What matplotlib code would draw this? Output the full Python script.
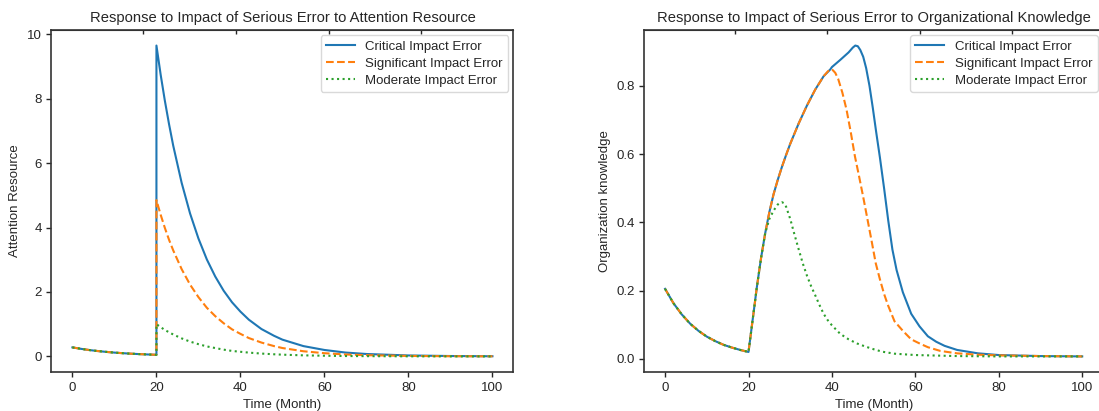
import matplotlib
matplotlib.use("Agg")
import matplotlib.pyplot as plt

plt.rcParams["font.family"] = ["Liberation Sans", "DejaVu Sans"]
plt.rcParams["text.color"] = ".15"
plt.rcParams["axes.labelcolor"] = ".15"
plt.rcParams["xtick.color"] = ".15"
plt.rcParams["ytick.color"] = ".15"
plt.rcParams["axes.edgecolor"] = ".2"

labels = ["Critical Impact Error", "Significant Impact Error", "Moderate Impact Error"]

# attention resource: shared decay before the error at month 20
attn_pre_month = [0, 2, 4, 6, 8, 10, 12, 14, 16, 18, 20]
attn_pre = [0.28, 0.236, 0.198, 0.167, 0.141, 0.118, 0.10, 0.084, 0.071, 0.06, 0.05]

attn_post_month = [20, 21, 22, 23, 24, 26, 28, 30, 32, 34, 36, 38, 40, 42, 45,
                   48, 50, 55, 60, 65, 70, 80, 90, 100]
attn_critical = [9.65, 8.75, 7.94, 7.21, 6.54, 5.39, 4.44, 3.66, 3.01, 2.48, 2.04,
                 1.68, 1.39, 1.14, 0.85, 0.64, 0.52, 0.32, 0.20, 0.12, 0.075,
                 0.03, 0.012, 0.005]
attn_significant = [4.85, 4.40, 3.99, 3.62, 3.29, 2.71, 2.23, 1.84, 1.51, 1.25, 1.03,
                    0.84, 0.70, 0.57, 0.43, 0.32, 0.26, 0.16, 0.10, 0.06, 0.038,
                    0.015, 0.006, 0.003]
attn_moderate = [1.0, 0.91, 0.82, 0.75, 0.68, 0.56, 0.46, 0.38, 0.31, 0.26, 0.21,
                 0.17, 0.144, 0.118, 0.088, 0.066, 0.054, 0.033, 0.021, 0.012,
                 0.008, 0.003, 0.001, 0.0]

# organizational knowledge: shared part up to month 24
know_base_month = [0, 2, 4, 6, 8, 10, 12, 14, 16, 18, 20, 21, 22, 23, 24]
know_base = [0.205, 0.163, 0.130, 0.103, 0.082, 0.065, 0.052, 0.041, 0.033, 0.026,
             0.02, 0.115, 0.21, 0.295, 0.368]

know_critical_month = [25, 26, 27, 28, 29, 30, 32, 34, 36, 38, 39.6, 40, 42, 44,
                       45, 45.6, 46.2, 46.8, 47.5, 48.2, 49, 49.8, 50.6, 51.5,
                       52.5, 53.5, 54.5, 55.5, 57, 59, 61, 63, 65, 67, 70, 75, 80,
                       90, 100]
know_critical = [0.43, 0.482, 0.524, 0.562, 0.597, 0.63, 0.689, 0.742, 0.789, 0.828,
                 0.848, 0.855, 0.876, 0.898, 0.912, 0.918, 0.916, 0.905, 0.885,
                 0.852, 0.80, 0.735, 0.665, 0.59, 0.50, 0.405, 0.32, 0.26, 0.195,
                 0.132, 0.095, 0.066, 0.05, 0.038, 0.026, 0.016, 0.011, 0.008,
                 0.007]

know_significant_month = [25, 26, 27, 28, 29, 30, 32, 34, 36, 38, 39, 39.6, 40.2,
                          40.8, 41.5, 42.5, 43.5, 44.5, 45.5, 46.5, 47.5, 48.5,
                          49.5, 50.5, 51.5, 52.5, 53.5, 55, 57, 59, 61, 63, 66, 70,
                          75, 80, 90, 100]
know_significant = [0.43, 0.482, 0.524, 0.562, 0.597, 0.63, 0.689, 0.742, 0.789,
                    0.828, 0.842, 0.848, 0.846, 0.838, 0.82, 0.78, 0.73, 0.665,
                    0.594, 0.535, 0.474, 0.41, 0.346, 0.28, 0.233, 0.19, 0.155,
                    0.11, 0.082, 0.057, 0.045, 0.034, 0.023, 0.016, 0.012, 0.01,
                    0.008, 0.007]

know_moderate_month = [25, 26, 27, 27.5, 28, 28.5, 29, 30, 31, 32, 33, 34, 35, 36,
                       37, 38, 39, 40, 42, 44, 46, 48, 50, 52, 55, 60, 70, 80, 100]
know_moderate = [0.41, 0.434, 0.452, 0.457, 0.459, 0.456, 0.446, 0.41, 0.365, 0.322,
                 0.28, 0.244, 0.213, 0.186, 0.158, 0.132, 0.113, 0.098, 0.073,
                 0.057, 0.045, 0.036, 0.028, 0.021, 0.015, 0.011, 0.008, 0.007,
                 0.007]

colors = ["#1f77b4", "#ff7f0e", "#2ca02c"]
styles = ["-", "--", ":"]
top_marks = [16.8, 38.9, 61.0, 83.1]

fig = plt.figure(figsize=(10.99, 4.11), dpi=100)
ax1 = fig.add_axes([0.0468, 0.095, 0.4204, 0.832])
ax2 = fig.add_axes([0.5862, 0.095, 0.4175, 0.832])

attn_series = [attn_critical, attn_significant, attn_moderate]
for vals, c, ls, lab in zip(attn_series, colors, styles, labels):
    ax1.plot(attn_pre_month + attn_post_month, attn_pre + vals,
             color=c, linestyle=ls, linewidth=1.5, label=lab)

know_series = [(know_critical_month, know_critical),
               (know_significant_month, know_significant),
               (know_moderate_month, know_moderate)]
for (m, vals), c, ls, lab in zip(know_series, colors, styles, labels):
    ax2.plot(know_base_month + m, know_base + vals,
             color=c, linestyle=ls, linewidth=1.5, label=lab)

ax1.set_title("Response to Impact of Serious Error to Attention Resource", fontsize=10.6)
ax1.set_ylabel("Attention Resource", fontsize=9.5)
ax2.set_title("Response to Impact of Serious Error to Organizational Knowledge", fontsize=10.6)
ax2.set_ylabel("Organization knowledge", fontsize=9.5)

for ax in (ax1, ax2):
    ax.set_xlabel("Time (Month)", fontsize=9.5)
    ax.set_xlim(-5, 105)
    ax.set_xticks([0, 20, 40, 60, 80, 100])
    ax.tick_params(labelsize=9.5, length=3.5, width=1)
    for sp in ax.spines.values():
        sp.set_linewidth(1.2)
    top = ax.secondary_xaxis("top")
    top.set_xticks(top_marks)
    top.tick_params(direction="in", length=3, width=1, labeltop=False)
    leg = ax.legend(loc="upper right", fontsize=9.5, handlelength=2.2,
                    borderaxespad=0.4, labelspacing=0.35)
    leg.get_frame().set_edgecolor("#d0d0d0")

ax2.set_yticks([0.0, 0.2, 0.4, 0.6, 0.8])

fig.savefig("out.png", dpi=100)
